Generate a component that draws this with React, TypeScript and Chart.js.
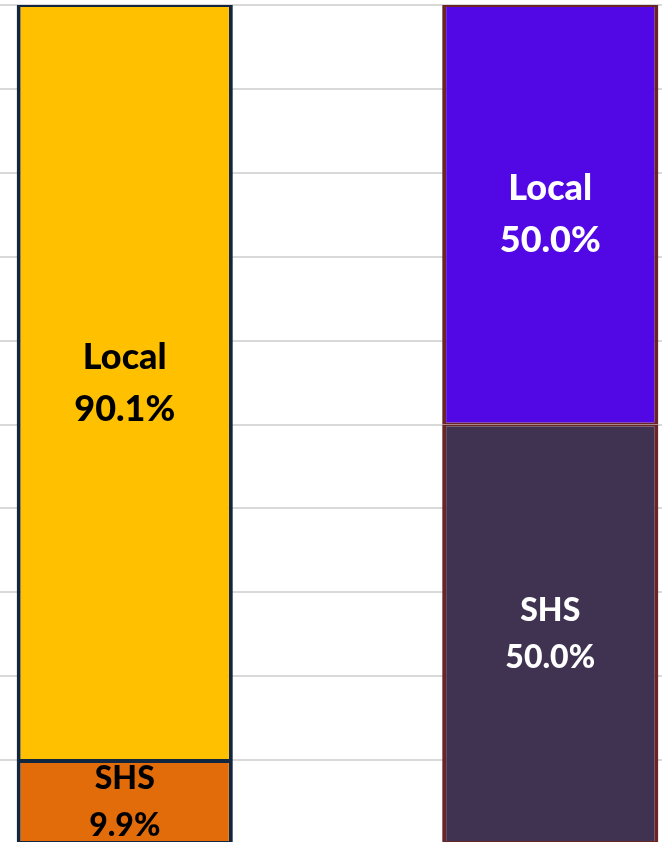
import React, { useEffect, useRef } from "react";
import { Chart, registerables } from "chart.js";

Chart.register(...registerables);

const categories = ["Group A", "Group B"];
const shsValues = [9.9, 50.0];
const localValues = [90.1, 50.0];
const seriesLabels = ["SHS", "Local"];

const shsColors = ["#E36C0A", "#403351"];
const localColors = ["#FFC000", "#5208E4"];
const borderColors = ["#13263F", "#6A2626"];
const labelColors = ["#000000", "#FFFFFF"];

const labelPlugin = {
  id: "segLabels",
  afterDatasetsDraw(chart: any) {
    const ctx = chart.ctx;
    ctx.save();
    ctx.textAlign = "center";
    ctx.textBaseline = "middle";
    chart.data.datasets.forEach((ds: any, di: number) => {
      const meta = chart.getDatasetMeta(di);
      const isLocal = ds.label === "Local";
      const size = isLocal ? 36 : 32;
      const off = isLocal ? 26 : 23.5;
      meta.data.forEach((el: any, i: number) => {
        const v = ds.data[i];
        const cx = el.x;
        const cy = (el.y + el.base) / 2;
        ctx.fillStyle = labelColors[i];
        ctx.font = `900 ${size}px Lato, "Open Sans", sans-serif`;
        ctx.fillText(ds.label, cx, cy - off);
        ctx.fillText(v.toFixed(1) + "%", cx, cy + off);
      });
    });
    ctx.restore();
  },
};

export default function App() {
  const ref = useRef<HTMLCanvasElement | null>(null);
  useEffect(() => {
    if (!ref.current) return;
    const chart = new Chart(ref.current, {
      type: "bar",
      data: {
        labels: categories,
        datasets: [
          {
            label: seriesLabels[0],
            data: shsValues,
            backgroundColor: shsColors,
            borderColor: borderColors,
            borderWidth: { top: 2, bottom: 2, left: 4, right: 4 },
            borderSkipped: false,
          },
          {
            label: seriesLabels[1],
            data: localValues,
            backgroundColor: localColors,
            borderColor: borderColors,
            borderWidth: { top: 2, bottom: 2, left: 4, right: 4 },
            borderSkipped: false,
          },
        ],
      },
      options: {
        responsive: false,
        animation: false,
        layout: { padding: { top: 5, bottom: 6, left: 0, right: 0 } },
        datasets: { bar: { categoryPercentage: 1, barPercentage: 0.508 } },
        plugins: { legend: { display: false }, tooltip: { enabled: false } },
        scales: {
          x: { stacked: true, display: false },
          y: {
            stacked: true,
            min: 0,
            max: 100,
            ticks: { display: false, stepSize: 10 },
            border: { display: false },
            grid: { color: "#D9D9D9", lineWidth: 2, drawTicks: false },
          },
        },
      },
      plugins: [labelPlugin],
    });
    return () => chart.destroy();
  }, []);
  return (
    <div
      style={{
        position: "fixed",
        left: 0,
        top: 0,
        width: 662,
        height: 842,
        overflow: "hidden",
        background: "#fff",
      }}
    >
      <canvas
        ref={ref}
        width={851}
        height={850}
        style={{ position: "absolute", left: -88, top: 0, width: 851, height: 850 }}
      />
    </div>
  );
}
